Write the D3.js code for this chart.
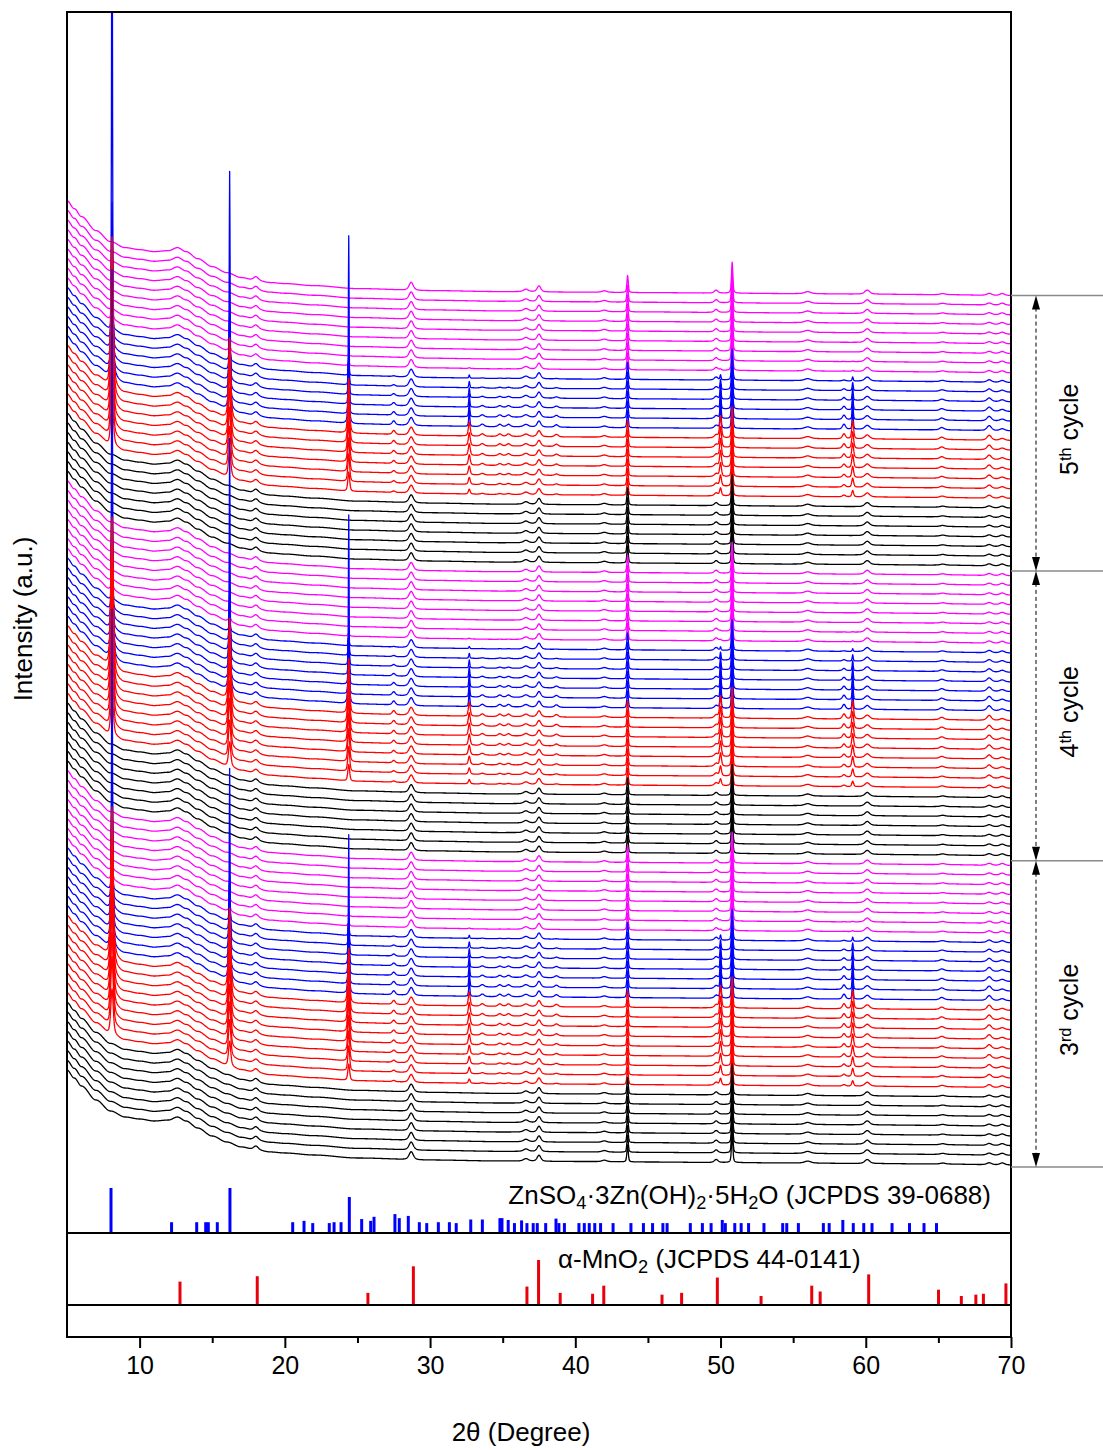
<!DOCTYPE html>
<html><head><meta charset="utf-8">
<script src="https://cdn.jsdelivr.net/npm/d3@7"></script>
<style>
body{margin:0;background:#fff}
svg{display:block}
text{font-family:Arial,"Liberation Sans",sans-serif;fill:#000}
</style>
</head><body>
<svg id="c" width="1103" height="1450"></svg>
<script>
// ---------------- DATA ----------------
const xDomain = [5, 70];
const xMajorTicks = [10, 20, 30, 40, 50, 60, 70];
const xMinorTicks = [15, 25, 35, 45, 55, 65];

// background shape of every pattern (a.u. above its own high-angle level)
const bgAngle = [5, 5.5, 6, 7, 8, 9, 10, 11, 12, 12.6, 13.2, 14, 15, 16, 17, 18, 19, 20, 22, 25, 30, 35, 40, 45, 50, 55, 60, 65, 70];
const bgLevel = [95, 87, 79, 65, 54, 48, 46, 44, 45, 48, 44, 37, 29, 23, 18, 15, 13, 12, 10, 7, 5, 4, 3.5, 3, 2.5, 2, 1.5, 1, 0];

// reflections present in every pattern (cathode / current collector)
const commonPos    = [18.0, 28.7, 36.6, 37.5, 42.0, 43.6, 49.7, 50.8, 56.0, 60.1, 65.3, 68.5, 69.4];
const commonHeight = [4, 8, 2.5, 6, 1.5, 17, 3, 31, 2, 4, 1, 2, 2];
const commonWidth  = [0.4, 0.35, 0.4, 0.3, 0.4, 0.11, 0.3, 0.11, 0.5, 0.4, 0.4, 0.4, 0.4];

// ZnSO4·3Zn(OH)2·5H2O reflections in the patterns (height at full amount)
const zhsPos    = [8.1, 16.2, 24.4, 27.5, 32.7, 33.6, 34.8, 35.4, 38.7, 50.0, 58.5, 59.1, 65.2, 68.5];
const zhsHeight = [150, 80, 55, 4, 14, 2.5, 2.5, 2.5, 2.5, 22, 5, 18, 1.5, 3];
const zhsWidth  = [0.2, 0.18, 0.15, 0.25, 0.15, 0.3, 0.3, 0.3, 0.3, 0.15, 0.25, 0.15, 0.3, 0.35];
const zhsSharpen = [1, 1, 1, 0, 1, 0, 0, 0, 0, 1, 0, 1, 0, 0];

// amount of ZHS phase in each pattern, per cycle and colour group (bottom -> top)
const groupOrder = ["black", "red", "blue", "magenta"];
const groupColor = {black: "#000000", red: "#ff0000", blue: "#0000ff", magenta: "#ff00ff"};
const cycleNames = ["3rd", "4th", "5th"];
const cycle3 = {black: [0, 0, 0, 0, 0, 0, 0, 0],
                red: [0.3, 0.45, 0.55, 0.65, 0.75, 0.82, 0.88, 0.94, 1.0],
                blue: [1.0, 0.92, 0.82, 0.68, 0.52, 0.35, 0.18],
                magenta: [0.05, 0.03, 0, 0, 0, 0, 0, 0]};
const cycle4 = {black: [0, 0, 0, 0, 0, 0, 0],
                red: [0.3, 0.45, 0.6, 0.7, 0.8, 0.88, 0.94, 1.0],
                blue: [1.0, 0.9, 0.78, 0.62, 0.45, 0.28, 0.12],
                magenta: [0.05, 0.02, 0, 0, 0, 0, 0, 0]};
const cycle5 = {black: [0, 0, 0, 0, 0, 0, 0],
                red: [0.35, 0.5, 0.62, 0.74, 0.84, 0.93, 1.0],
                blue: [1.0, 0.88, 0.72, 0.55, 0.36, 0.18],
                magenta: [0.05, 0.02, 0, 0, 0, 0, 0, 0, 0]};
const cycleData = [cycle3, cycle4, cycle5];

// extra-strong oriented reflections: [pattern index (0 = bottom), angle, height]
const spikeTrace  = [76, 76, 76, 47, 47, 47, 17, 17, 17];
const spikeAngle  = [8.1, 16.2, 24.4, 8.1, 16.2, 24.4, 8.1, 16.2, 24.4];
const spikeHeight = [420, 137, 119, 200, 150, 120, 150, 110, 90];

const traceStep = 9.66;

// reference cards (relative intensity)
const zhsStickPos = [8.03, 12.2, 13.93, 14.55, 14.73, 15.35, 16.22, 20.54, 21.32, 21.92, 23.06, 23.39, 23.87, 24.44, 25.29, 25.91, 26.14, 27.58, 27.88, 28.5, 29.26, 29.77, 30.57, 31.33, 31.80, 32.80, 33.60, 34.81, 34.95, 35.38, 35.81, 36.30, 36.67, 37.10, 37.38, 37.96, 38.67, 38.87, 39.25, 40.25, 40.62, 40.96, 41.34, 41.74, 42.60, 43.83, 44.69, 45.32, 46.03, 46.32, 47.92, 48.75, 49.35, 50.12, 50.33, 50.98, 51.42, 51.93, 52.99, 54.28, 54.56, 55.36, 57.08, 57.48, 58.42, 59.14, 59.86, 60.43, 61.81, 63.01, 64.01, 64.87];
const zhsStickInt = [100, 24, 24, 24, 24, 24, 100, 24, 27, 22, 22, 24, 24, 80, 31, 27, 36, 42, 33, 38, 24, 22, 24, 24, 22, 30, 30, 33, 33, 29, 22, 28, 22, 22, 22, 22, 32, 22, 22, 22, 22, 22, 22, 22, 22, 22, 22, 22, 22, 22, 22, 22, 22, 29, 22, 22, 22, 22, 22, 22, 22, 22, 22, 22, 29, 22, 22, 22, 22, 22, 22, 22];
const mnoStickPos = [12.78, 18.10, 25.72, 28.85, 36.67, 37.47, 38.96, 41.19, 41.96, 45.97, 47.32, 49.78, 52.79, 56.28, 56.86, 60.20, 65.01, 66.58, 67.58, 68.10, 69.65];
const mnoStickInt = [52, 64, 27, 86, 41, 100, 27, 25, 43, 23, 27, 61, 20, 43, 30, 68, 34, 20, 23, 25, 48];

// ---------------- DRAW ----------------
const svg = d3.select("#c");
const L = 67, R = 1011, T = 12, B = 1337, P1 = 1233, P2 = 1305;
const x = d3.scaleLinear().domain(xDomain).range([L, R]);
const y = d3.scaleLinear().domain([-68, 1153]).range([P1, T]);
const yZ = d3.scaleLinear().domain([0, 100]).range([P1, P1 - 45]);
const yM = d3.scaleLinear().domain([0, 100]).range([P2, P2 - 45]);

const bgInterp = (a) => {
  let i = d3.bisectRight(bgAngle, a) - 1;
  if (i < 0) i = 0; if (i >= bgAngle.length - 1) i = bgAngle.length - 2;
  const t = (a - bgAngle[i]) / (bgAngle[i + 1] - bgAngle[i]);
  return bgLevel[i] + (bgLevel[i + 1] - bgLevel[i]) * (t * t * (3 - 2 * t));
};
const pv = (a, c, h, w) => {
  const d = (a - c) / (w / 2);
  return h * (0.5 / (1 + d * d) + 0.5 * Math.exp(-0.693 * d * d));
};

// angle grid
const grid = [];
for (let a = 5; a <= 70.0001; a += 0.02) grid.push(+a.toFixed(3));
[...zhsPos, ...commonPos].forEach(p => grid.push(p));
grid.sort((a, b) => a - b);

const traces = [];
cycleData.forEach((cyc, ci) => {
  groupOrder.forEach(g => {
    cyc[g].forEach(z => traces.push({cycle: ci, group: g, z}));
  });
});
traces.forEach((t, i) => t.offset = i * traceStep);

const clip = svg.append("defs").append("clipPath").attr("id", "clipMain");
clip.append("rect").attr("x", L).attr("y", T).attr("width", R - L).attr("height", P1 - T);

const line = d3.line().x(d => x(d[0])).y(d => y(d[1]));
const gTr = svg.append("g").attr("clip-path", "url(#clipMain)");

for (let i = traces.length - 1; i >= 0; i--) {
  const t = traces[i];
  const isBlue = t.group === "blue";
  const pts = grid.map(a => {
    let v = t.offset + bgInterp(a);
    for (let k = 0; k < commonPos.length; k++) {
      if (Math.abs(a - commonPos[k]) < 4) v += pv(a, commonPos[k], commonHeight[k], commonWidth[k]);
    }
    if (t.z > 0) {
      for (let k = 0; k < zhsPos.length; k++) {
        if (Math.abs(a - zhsPos[k]) < 4) {
          const sh = isBlue && zhsSharpen[k];
          v += pv(a, zhsPos[k], zhsHeight[k] * t.z * (sh ? 1.25 : 1), zhsWidth[k] * (sh ? 0.55 : 1));
        }
      }
    }
    for (let k = 0; k < spikeTrace.length; k++) {
      if (spikeTrace[k] === i && Math.abs(a - spikeAngle[k]) < 2) v += pv(a, spikeAngle[k], spikeHeight[k], 0.06);
    }
    return [a, v];
  });
  gTr.append("path").attr("d", line(pts)).attr("fill", "none")
    .attr("stroke", groupColor[t.group]).attr("stroke-width", 1.3).attr("stroke-linejoin", "round");
}

// reference sticks
svg.append("g").selectAll("line").data(zhsStickPos).join("line")
  .attr("x1", d => x(d)).attr("x2", d => x(d))
  .attr("y1", yZ(0)).attr("y2", (d, i) => yZ(zhsStickInt[i]))
  .attr("stroke", "#0000ff").attr("stroke-width", 3);
svg.append("g").selectAll("line").data(mnoStickPos).join("line")
  .attr("x1", d => x(d)).attr("x2", d => x(d))
  .attr("y1", yM(0)).attr("y2", (d, i) => yM(mnoStickInt[i]))
  .attr("stroke", "#e8000b").attr("stroke-width", 3);

// frame and panel dividers
svg.append("rect").attr("x", L).attr("y", T).attr("width", R - L).attr("height", B - T)
  .attr("fill", "none").attr("stroke", "#000").attr("stroke-width", 2);
[P1, P2].forEach(yy => svg.append("line").attr("x1", L).attr("x2", R).attr("y1", yy).attr("y2", yy)
  .attr("stroke", "#000").attr("stroke-width", 2));

// x axis
const ax = svg.append("g").attr("transform", `translate(0,${B})`)
  .call(d3.axisBottom(x).tickValues(xMajorTicks).tickSize(11).tickPadding(8).tickFormat(d3.format("d")));
ax.select(".domain").remove();
ax.selectAll(".tick line").attr("stroke-width", 2);
ax.selectAll("text").style("font-size", "25px").style("font-family", "Arial, 'Liberation Sans', sans-serif");
const axm = svg.append("g").attr("transform", `translate(0,${B})`)
  .call(d3.axisBottom(x).tickValues(xMinorTicks).tickSize(6).tickFormat(""));
axm.select(".domain").remove();
axm.selectAll(".tick line").attr("stroke-width", 2);

svg.append("text").attr("x", 521).attr("y", 1441).attr("text-anchor", "middle")
  .style("font-size", "26px").text("2θ (Degree)");
svg.append("text").attr("transform", "translate(32,619) rotate(-90)").attr("text-anchor", "middle")
  .style("font-size", "26px").text("Intensity (a.u.)");

// card labels
function richText(sel, parts, big) {
  parts.forEach(p => {
    const ts = sel.append("tspan").text(p[0]);
    if (p[1] === "sub") ts.attr("baseline-shift", "-25%").style("font-size", (big * 0.7) + "px");
    if (p[1] === "sup") ts.attr("baseline-shift", "45%").style("font-size", (big * 0.65) + "px");
  });
}
const t1 = svg.append("text").attr("x", 991).attr("y", 1204).attr("text-anchor", "end").style("font-size", "26px");
richText(t1, [["ZnSO"], ["4", "sub"], ["·3Zn(OH)"], ["2", "sub"], ["·5H"], ["2", "sub"], ["O (JCPDS 39-0688)"]], 26);
const t2 = svg.append("text").attr("x", 558).attr("y", 1268).style("font-size", "26px");
richText(t2, [["α-MnO"], ["2", "sub"], [" (JCPDS 44-0141)"]], 26);

// cycle annotation
const bounds = [y(-2), y(traces.findIndex(t => t.cycle === 1) * traceStep - traceStep / 2),
  y(traces.findIndex(t => t.cycle === 2) * traceStep - traceStep / 2), y((traces.length - 1) * traceStep)];
bounds.forEach(b => svg.append("line").attr("x1", R).attr("x2", 1103).attr("y1", b).attr("y2", b)
  .attr("stroke", "#8a8a8a").attr("stroke-width", 1.5));
const ann = svg.append("g");
for (let c = 0; c < 3; c++) {
  const yb = bounds[c], yt = bounds[c + 1];
  ann.append("line").attr("x1", 1036).attr("x2", 1036).attr("y1", yt + 12).attr("y2", yb - 12)
    .attr("stroke", "#000").attr("stroke-width", 1).attr("stroke-dasharray", "4,3");
  ann.append("path").attr("d", `M1036,${yt} L1032,${yt + 14} L1040,${yt + 14} Z`).attr("fill", "#000");
  ann.append("path").attr("d", `M1036,${yb} L1032,${yb - 14} L1040,${yb - 14} Z`).attr("fill", "#000");
  const num = cycleNames[c].match(/\d+/)[0], suf = cycleNames[c].replace(/\d+/, "");
  const tx = ann.append("text").attr("transform", `translate(1078,${(yb + yt) / 2 - 4}) rotate(-90)`)
    .attr("text-anchor", "middle").style("font-size", "25px");
  richText(tx, [[num], [suf, "sup"], [" cycle"]], 25);
}
</script>
</body></html>
